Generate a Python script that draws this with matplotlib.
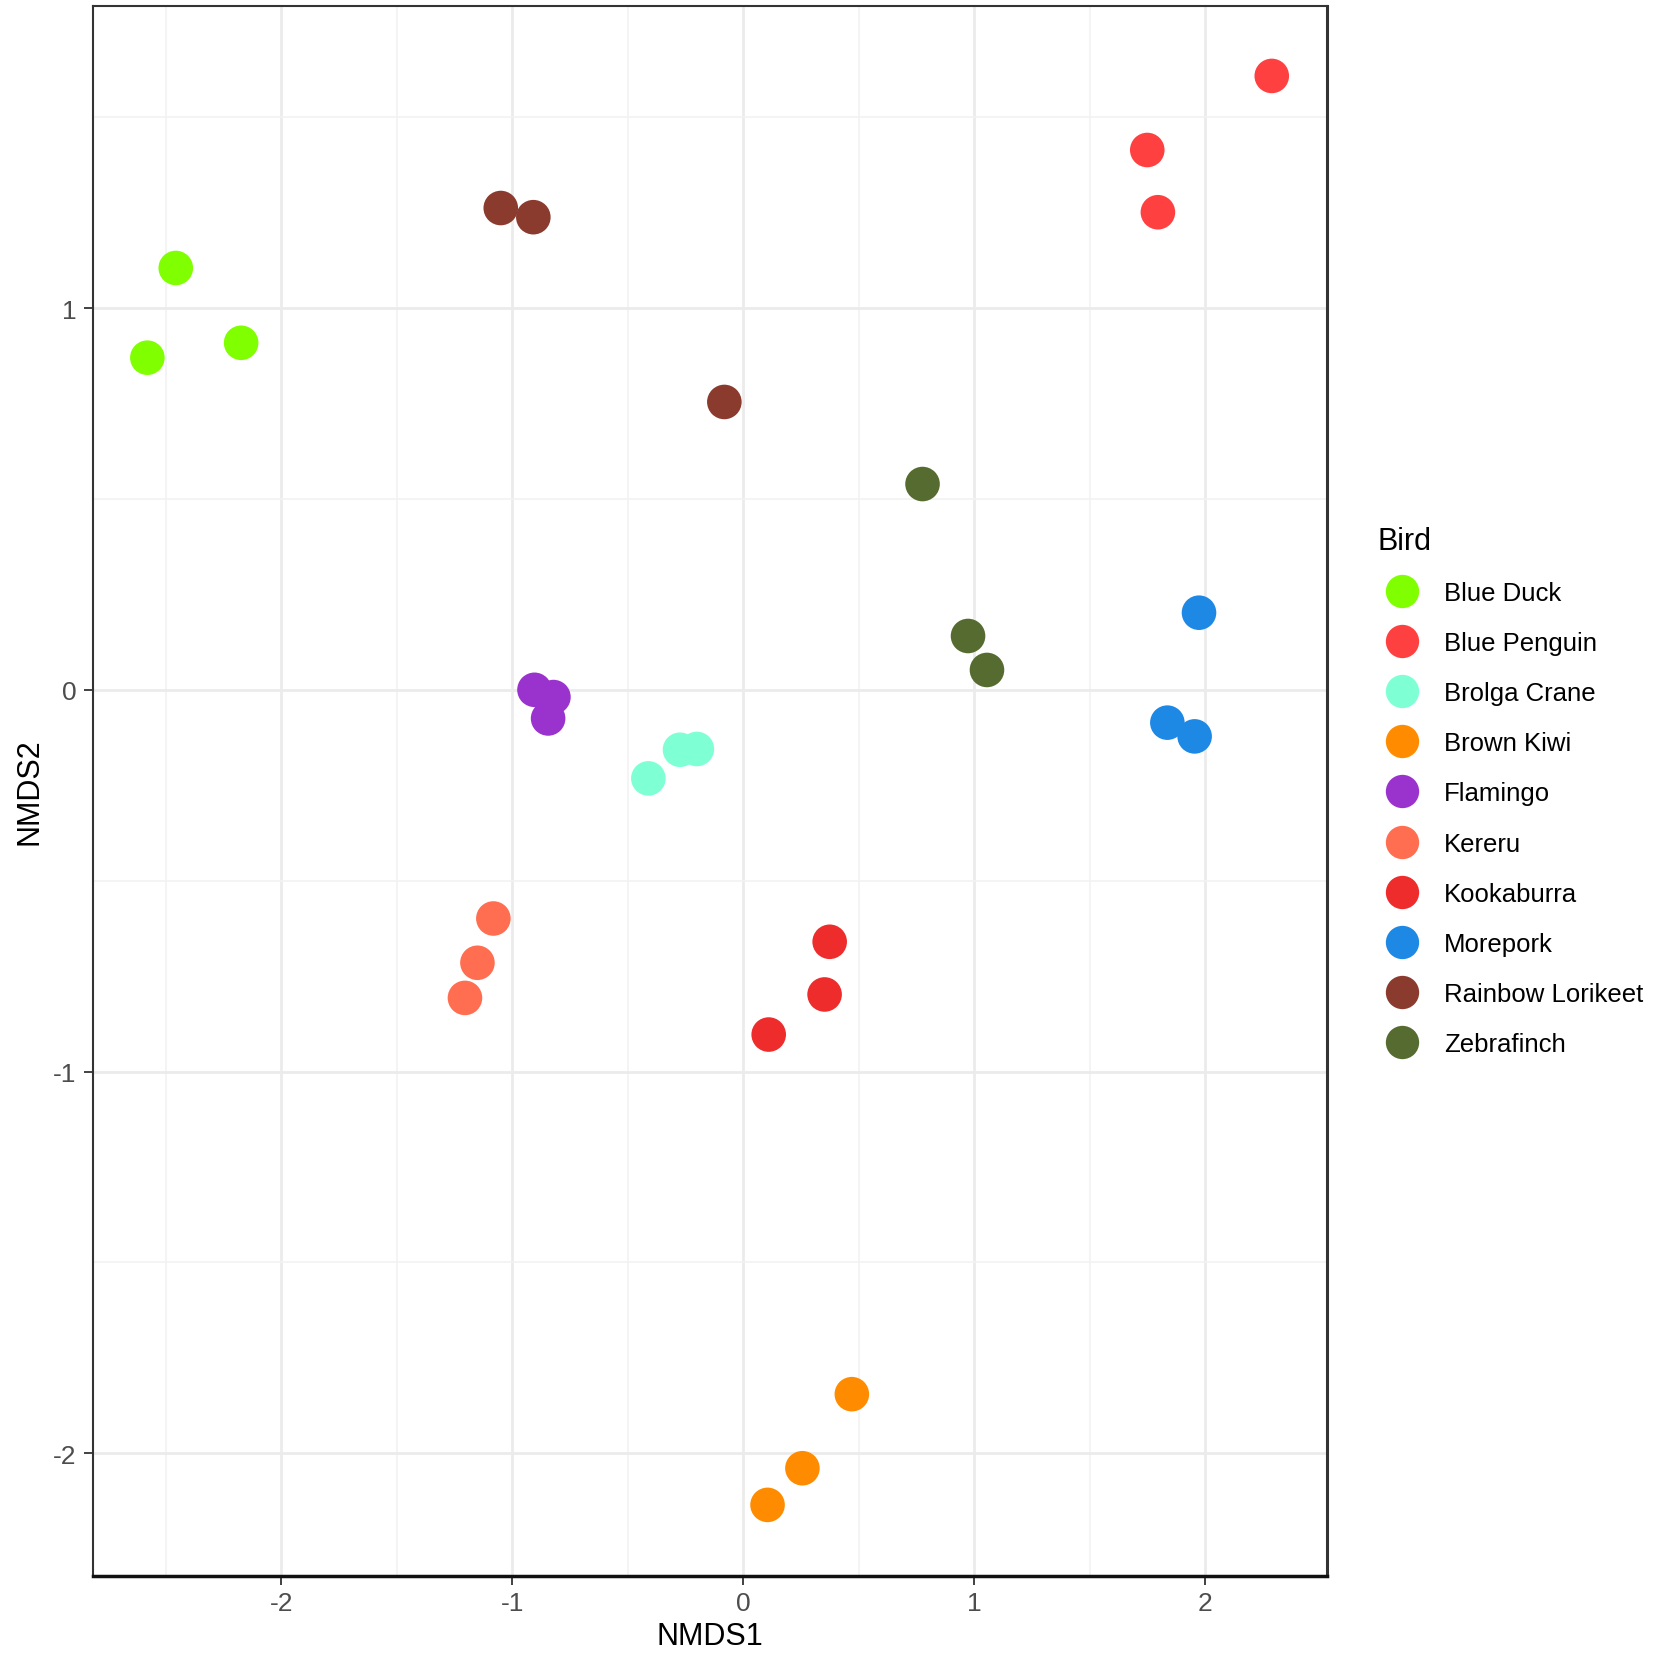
import matplotlib
matplotlib.use('Agg')
import matplotlib.pyplot as plt
from matplotlib.lines import Line2D

plt.rcParams['font.family'] = ['Liberation Sans', 'DejaVu Sans']
plt.rcParams['axes.unicode_minus'] = False

# NMDS scores, 3 per bird
birds = ['Blue Duck', 'Blue Penguin', 'Brolga Crane', 'Brown Kiwi', 'Flamingo',
         'Kereru', 'Kookaburra', 'Morepork', 'Rainbow Lorikeet', 'Zebrafinch']
colours = ['#7FFF00', '#FF4040', '#7FFFD4', '#FF8C00', '#9A32CD',
           '#FF6E50', '#EE2C2C', '#1E88E5', '#8B3A2E', '#556B2F']
nmds1 = [[-2.457, -2.580, -2.174],
         [2.288, 1.749, 1.795],
         [-0.411, -0.274, -0.201],
         [0.470, 0.256, 0.105],
         [-0.904, -0.822, -0.845],
         [-1.082, -1.151, -1.205],
         [0.374, 0.352, 0.110],
         [1.973, 1.836, 1.954],
         [-1.050, -0.909, -0.082],
         [0.776, 0.973, 1.055]]
nmds2 = [[1.105, 0.870, 0.909],
         [1.608, 1.414, 1.251],
         [-0.232, -0.157, -0.155],
         [-1.845, -2.039, -2.135],
         [0.000, -0.019, -0.075],
         [-0.599, -0.715, -0.807],
         [-0.660, -0.798, -0.903],
         [0.202, -0.086, -0.122],
         [1.262, 1.238, 0.754],
         [0.539, 0.141, 0.052]]
xticks = [-2, -1, 0, 1, 2]
yticks = [-2, -1, 0, 1]

fig = plt.figure(figsize=(16.54, 16.56), dpi=100)
ax = fig.add_axes([0.056, 0.048, 0.746, 0.9475])

for b, c, xs, ys in zip(birds, colours, nmds1, nmds2):
    ax.scatter(xs, ys, s=620, color=c, edgecolors='none', zorder=3, label=b)

ax.set_xlim(-2.817, 2.525)
ax.set_ylim(-2.32, 1.79)
ax.set_xticks(xticks)
ax.set_yticks(yticks)
ax.set_xticks([-2.5, -1.5, -0.5, 0.5, 1.5], minor=True)
ax.set_yticks([-1.5, -0.5, 0.5, 1.5], minor=True)
ax.grid(which='major', color='#EBEBEB', linewidth=2.0, zorder=0)
ax.grid(which='minor', color='#F2F2F2', linewidth=1.2, zorder=0)
ax.set_axisbelow(True)

ax.tick_params(which='major', length=6.5, width=1.3, color='#333333',
               labelsize=19, labelcolor='#4D4D4D', pad=5)
ax.tick_params(which='minor', length=0)
for sp in ax.spines.values():
    sp.set_color('#333333')
    sp.set_linewidth(1.5)
ax.spines['bottom'].set_color('#111111')
ax.spines['bottom'].set_linewidth(2.5)
ax.spines['right'].set_linewidth(2.2)

ax.set_xlabel('NMDS1', fontsize=22, labelpad=4)
ax.set_ylabel('NMDS2', fontsize=22, labelpad=6)

handles = [Line2D([], [], marker='o', linestyle='none', markersize=24,
                  markerfacecolor=c, markeredgecolor='none') for c in colours]
leg = ax.legend(handles, birds, title='Bird', loc='center left',
                bbox_to_anchor=(1.031, 0.5), frameon=False, fontsize=18.5,
                title_fontsize=22, labelspacing=1.02, handletextpad=0.7,
                borderpad=0, handlelength=1.87, alignment='left')
leg._legend_box.sep = 18

fig.savefig('out.png', dpi=100, facecolor='white')
